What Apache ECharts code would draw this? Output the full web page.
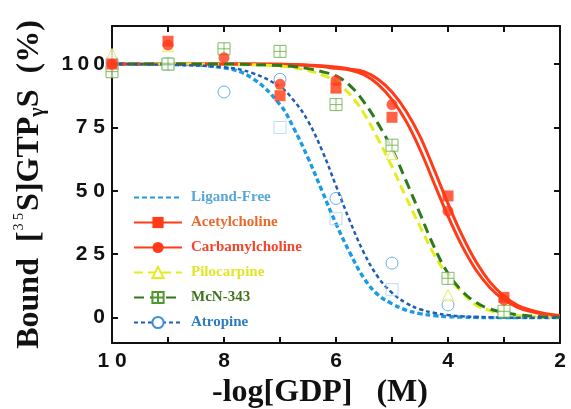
<!DOCTYPE html>
<html>
<head>
<meta charset="utf-8">
<script src="https://cdn.jsdelivr.net/npm/echarts@6/dist/echarts.min.js"></script>
<style>
  html, body { margin: 0; padding: 0; background: #fff; }
  #main { width: 571px; height: 409px; }
</style>
</head>
<body>
<div id="main"></div>
<script>
// fitted curves (-log[GDP] vs % bound)
var curveX = [10, 9, 8, 7.5, 7, 6.75, 6.5, 6.25, 6, 5.75, 5.5, 5.25, 5, 4.75, 4.5, 4.25, 4, 3.75, 3.5, 3.25, 3, 2.75, 2.5, 2.25, 2];
var ligandFreeCurve = [100, 99.9, 98.5, 94.5, 84, 74.5, 63, 50, 37, 25.5, 15.5, 9, 5.5, 3, 1.6, 0.8, 0.4, 0.2, 0.1, 0, 0, 0, 0, 0, 0];
var acetylCurve = [100, 100, 100, 100, 99.9, 99.8, 99.6, 99.3, 98.8, 98, 97, 94, 89, 81.5, 71.5, 58.5, 45, 32.5, 22, 14, 8.5, 4.8, 2.8, 1.5, 0.8];
var carbamylCurve = [100, 100, 100, 100, 99.9, 99.7, 99.4, 99, 98.3, 97.6, 95.8, 92, 86, 77.5, 66.3, 53.1, 40, 28.3, 18.8, 11.8, 7, 4, 2.3, 1.2, 0.6];
var pilocarpineCurve = [100, 100, 99.9, 99.7, 99.2, 98.5, 97.4, 95.8, 93, 88, 80.5, 70.5, 59.5, 47.5, 36, 25, 16.5, 10, 5, 2.8, 1.5, 0.8, 0.4, 0.2, 0.1];
var mcnCurve = [100, 100, 100, 99.8, 99.4, 99, 98.2, 97, 95.3, 91.5, 85, 76.5, 66.5, 54, 41, 28, 17.5, 10.5, 6, 3.4, 2, 1.1, 0.6, 0.3, 0.2];
var atropineCurve = [100, 99.7, 98.7, 96.5, 91, 85.5, 77.5, 66, 52, 38, 25.5, 16, 9.8, 5.8, 3.3, 1.9, 1, 0.5, 0.3, 0.1, 0, 0, 0, 0, 0];

// measured points
var doseX = [10, 9, 8, 7, 6, 5, 4, 3];
var ligandFreePts = [100, 100, null, 75, 39, 11, null, null];
var acetylPts = [100, 109, null, 87.5, 90.5, 79, 48, 8];
var carbamylPts = [100, 107.5, 102.5, 92, 93.5, 84, 42, 7];
var pilocarpinePts = [104, 107, null, 90, 91, 64.5, 9, 3];
var mcnPts = [97, 100, 106, 105, 84, 68, 15.5, 2.5];
var atropinePts = [101, 100, 89, 94, 47, 21.5, 5, 2];

var yTicks = [0, 25, 50, 75, 100];
var names = ['Ligand-Free', 'Acetylcholine', 'Carbamylcholine', 'Pilocarpine', 'McN-343', 'Atropine'];

var plusBox = 'path://M0,0H12V12H0Z M6,0V12 M0,6H12';

function pairs(xs, ys) {
  var out = [];
  for (var i = 0; i < xs.length; i++) {
    if (ys[i] != null) out.push([xs[i], ys[i]]);
  }
  return out;
}

function spaced(v) {
  return String(v).split('').join(' ');
}

var serif = '"Liberation Serif", "DejaVu Serif", serif';
var sans = '"Liberation Sans", Arial, sans-serif';

function curve(name, data, color, width, dash, symbol, itemStyle) {
  return {
    name: name, type: 'line', data: pairs(curveX, data),
    smooth: 0.4, showSymbol: false, symbol: symbol, symbolSize: 11,
    lineStyle: { color: color, width: width, type: dash, cap: 'butt' },
    itemStyle: itemStyle, z: 2, silent: true
  };
}

function dots(name, data, symbol, size, itemStyle) {
  return {
    name: name, type: 'scatter', data: pairs(doseX, data),
    symbol: symbol, symbolSize: size, itemStyle: itemStyle, z: 3
  };
}

var myChart = echarts.init(document.getElementById('main'));

var option = {
  backgroundColor: '#fff',
  animation: false,
  grid: { left: 112, right: 11, top: 26, bottom: 66, outerBoundsMode: 'none' },
  legend: {
    orient: 'vertical', left: 128, top: 185,
    itemWidth: 48, itemHeight: 14, itemGap: 10,
    textStyle: { fontFamily: serif, fontWeight: 'bold', fontSize: 15, padding: [0, 0, 0, 4] },
    data: [
      { name: names[0], itemStyle: { opacity: 0 }, textStyle: { color: '#56a7d8' } },
      { name: names[1], textStyle: { color: '#ea6a2c' } },
      { name: names[2], textStyle: { color: '#f2452a' } },
      { name: names[3], textStyle: { color: '#e3e626' } },
      { name: names[4], textStyle: { color: '#41721d' } },
      { name: names[5], textStyle: { color: '#2e7cbd' } }
    ]
  },
  xAxis: [{
    type: 'value', min: 2, max: 10, interval: 1, inverse: true,
    name: '-log[GDP]   (M)', nameLocation: 'middle', nameGap: 24,
    nameTextStyle: { fontFamily: serif, fontWeight: 'bold', fontSize: 32, color: '#111', padding: [0, 32, 0, 0] },
    axisLine: { onZero: false, lineStyle: { color: '#111', width: 2 } },
    axisTick: { inside: true, length: 6, lineStyle: { color: '#111', width: 2 } },
    axisLabel: {
      margin: 8, color: '#111', fontFamily: sans, fontWeight: 'bold', fontSize: 21,
      showMinLabel: true, showMaxLabel: true,
      formatter: function (v) { return v % 2 === 0 ? spaced(v) : ''; }
    },
    splitLine: { show: false }
  }, {
    type: 'value', position: 'top', min: 2, max: 10, interval: 1, inverse: true,
    axisLine: { onZero: false, lineStyle: { color: '#111', width: 2 } },
    axisTick: { inside: true, length: 6, lineStyle: { color: '#111', width: 2 } },
    axisLabel: { show: false },
    splitLine: { show: false }
  }],
  yAxis: [{
    type: 'value', min: -10, max: 115,
    name: '{a|Bound  [}{sup|3 5}{a|S]GTP}{sub|γ}{a|S  (%)}',
    nameLocation: 'middle', nameGap: 64,
    nameTextStyle: {
      color: '#111',
      rich: {
        a: { fontFamily: serif, fontWeight: 'bold', fontSize: 32, color: '#111', lineHeight: 36 },
        sup: { fontFamily: serif, fontSize: 14, color: '#111', verticalAlign: 'top', lineHeight: 36, padding: [0, 2, 14, 1] },
        sub: { fontFamily: serif, fontWeight: 'bold', fontSize: 20, color: '#111', verticalAlign: 'bottom', lineHeight: 36, padding: [10, 0, 0, 0] }
      }
    },
    axisLine: { onZero: false, lineStyle: { color: '#111', width: 2 } },
    axisTick: { inside: true, length: 6, customValues: yTicks, lineStyle: { color: '#111', width: 2 } },
    axisLabel: {
      margin: 7, color: '#111', fontFamily: sans, fontWeight: 'bold', fontSize: 21,
      customValues: yTicks,
      formatter: function (v) { return v === 100 ? '1\u20090\u20090' : spaced(v); }
    },
    splitLine: { show: false }
  }, {
    type: 'value', position: 'right', min: -10, max: 115,
    axisLine: { onZero: false, lineStyle: { color: '#111', width: 2 } },
    axisTick: { inside: true, length: 6, customValues: yTicks, lineStyle: { color: '#111', width: 2 } },
    axisLabel: { show: false },
    splitLine: { show: false }
  }],
  series: [
    curve(names[0], ligandFreeCurve, '#1c9be3', 3.4, [5, 3], 'rect', { color: '#1c9be3' }),
    curve(names[1], acetylCurve, '#ff3b18', 3, 'solid', 'rect', { color: '#ff3b18' }),
    curve(names[2], carbamylCurve, '#ff3b18', 3, 'solid', 'circle', { color: '#ff3b18' }),
    curve(names[3], pilocarpineCurve, '#e4ec1e', 3, [9, 5], 'triangle', { color: '#fff', borderColor: '#e4ec1e', borderWidth: 1 }),
    curve(names[4], mcnCurve, '#2d7a1c', 3, [10, 6], plusBox, { color: '#fff', borderColor: '#4f9a30', borderWidth: 1 }),
    curve(names[5], atropineCurve, '#1f5db5', 2.5, [4, 3], 'circle', { color: '#fff', borderColor: '#3f8fdc', borderWidth: 1 }),
    dots(names[0], ligandFreePts, 'rect', 12, { color: 'rgba(255,255,255,0)', borderColor: '#a9d3ef', borderWidth: 1 }),
    dots(names[5], atropinePts, 'circle', 12, { color: 'rgba(255,255,255,0)', borderColor: '#4a9be0', borderWidth: 1 }),
    dots(names[3], pilocarpinePts, 'triangle', 11, { color: '#fff', borderColor: '#e6ea3a', borderWidth: 1 }),
    dots(names[4], mcnPts, plusBox, 12, { color: '#fff', borderColor: '#62ad3c', borderWidth: 1 }),
    dots(names[2], carbamylPts, 'circle', 11, { color: '#ff3b18' }),
    dots(names[1], acetylPts, 'rect', 11, { color: '#ff3b18' })
  ]
};

myChart.setOption(option);
</script>
</body>
</html>
